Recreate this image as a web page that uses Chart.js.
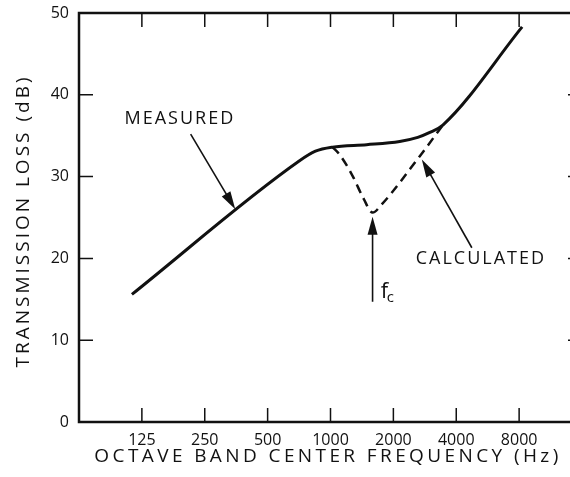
<!DOCTYPE html>
<html lang="en">
<head>
  <meta charset="UTF-8" />
  <title>Transmission Loss</title>
  <script src="https://cdn.jsdelivr.net/npm/chart.js"></script>
  <style>
    html, body { margin: 0; padding: 0; background: #fff; overflow: hidden; }
    .wrap { width: 600px; height: 477px; position: relative; }
  </style>
</head>
<body>
  <div class="wrap"><canvas id="graf"></canvas></div>

  <script>
    // octave bands (Hz) and their tick labels
    const bandFreqs = [125, 250, 500, 1000, 2000, 4000, 8000];
    const bandLabels = ['125', '250', '500', '1000', '2000', '4000', '8000'];
    const lossTicks = [0, 10, 20, 30, 40, 50];

    // measured curve
    const measuredFreq = [112, 708, 847, 1022, 1489, 2145, 2617, 2990, 3451, 8270];
    const measuredLoss = [15.6, 31.9, 33.1, 33.6, 33.9, 34.3, 34.8, 35.4, 36.3, 48.3];

    // calculated curve (coincidence dip at fc)
    const calculatedFreq = [1022, 1105, 1275, 1440, 1591, 1758, 2676, 3451];
    const calculatedLoss = [33.6, 32.7, 30.1, 27.3, 25.6, 26.6, 32.5, 36.3];

    const INK = '#111';
    const FONT = '"Open Sans", sans-serif';

    // text + arrows, in data units [Hz, dB]
    const notes = [
      { text: 'MEASURED', at: [190, 37.1], from: [214, 35.2], to: [350, 26.0] },
      { text: 'CALCULATED', at: [5250, 19.9], from: [4750, 21.3], to: [2737, 32.1] },
      { text: '', at: [1817, 15.9], from: [1590, 14.7], to: [1590, 25.1] }
    ];

    function arrow(ctx, x1, y1, x2, y2) {
      const a = Math.atan2(y2 - y1, x2 - x1);
      const len = 18, half = 5;
      ctx.beginPath();
      ctx.moveTo(x1, y1);
      ctx.lineTo(x2 - Math.cos(a) * len * 0.8, y2 - Math.sin(a) * len * 0.8);
      ctx.lineWidth = 1.6;
      ctx.stroke();
      ctx.beginPath();
      ctx.moveTo(x2, y2);
      ctx.lineTo(x2 - Math.cos(a) * len - Math.sin(a) * half, y2 - Math.sin(a) * len + Math.cos(a) * half);
      ctx.lineTo(x2 - Math.cos(a) * len + Math.sin(a) * half, y2 - Math.sin(a) * len - Math.cos(a) * half);
      ctx.closePath();
      ctx.fill();
    }

    const framePlugin = {
      id: 'frame',
      afterDraw(chart) {
        const ctx = chart.ctx;
        const { left, right, top, bottom } = chart.chartArea;
        const xs = chart.scales.x, ys = chart.scales.y;
        ctx.save();
        ctx.strokeStyle = INK;
        ctx.fillStyle = INK;

        // frame
        ctx.lineWidth = 2.5;
        ctx.strokeRect(left, top, right - left, bottom - top);

        // inward ticks
        ctx.lineWidth = 1.5;
        ctx.beginPath();
        bandFreqs.forEach(f => {
          const x = xs.getPixelForValue(f);
          ctx.moveTo(x, bottom); ctx.lineTo(x, bottom - 14);
          ctx.moveTo(x, top); ctx.lineTo(x, top + 14);
        });
        lossTicks.slice(1, -1).forEach(v => {
          const y = ys.getPixelForValue(v);
          ctx.moveTo(left, y); ctx.lineTo(left + 14, y);
          ctx.moveTo(right, y); ctx.lineTo(right - 14, y);
        });
        ctx.stroke();

        // axis titles
        ctx.font = '19px ' + FONT;
        ctx.textAlign = 'center';
        ctx.textBaseline = 'middle';
        ctx.letterSpacing = '3.4px';
        ctx.fillText('OCTAVE BAND CENTER FREQUENCY (Hz)', 328, 457);
        ctx.letterSpacing = '3px';
        ctx.save();
        ctx.translate(24, 221);
        ctx.rotate(-Math.PI / 2);
        ctx.fillText('TRANSMISSION LOSS (dB)', 0, 0);
        ctx.restore();

        // notes
        ctx.font = '18px ' + FONT;
        ctx.letterSpacing = '2px';
        notes.forEach(n => {
          const px = p => [xs.getPixelForValue(p[0]), ys.getPixelForValue(p[1])];
          const [tx, ty] = px(n.at);
          if (n.text) ctx.fillText(n.text, tx, ty);
          const [x1, y1] = px(n.from);
          const [x2, y2] = px(n.to);
          arrow(ctx, x1, y1, x2, y2);
        });

        // f with subscript c
        const [fx, fy] = [xs.getPixelForValue(notes[2].at[0]), ys.getPixelForValue(notes[2].at[1])];
        ctx.letterSpacing = '0px';
        ctx.textAlign = 'left';
        ctx.font = '22px ' + FONT;
        ctx.fillText('f', fx - 4, fy);
        ctx.font = '15px ' + FONT;
        ctx.fillText('c', fx + 2, fy + 6);
        ctx.restore();
      }
    };

    const ctx = document.getElementById('graf').getContext('2d');
    new Chart(ctx, {
      type: 'line',
      data: {
        datasets: [
          {
            label: 'Measured',
            data: measuredFreq.map((f, i) => ({ x: f, y: measuredLoss[i] })),
            borderColor: INK,
            borderWidth: 3,
            pointRadius: 0,
            cubicInterpolationMode: 'monotone',
            fill: false
          },
          {
            label: 'Calculated',
            data: calculatedFreq.map((f, i) => ({ x: f, y: calculatedLoss[i] })),
            borderColor: INK,
            borderWidth: 2.5,
            borderDash: [9, 6],
            pointRadius: 0,
            cubicInterpolationMode: 'monotone',
            fill: false
          }
        ]
      },
      options: {
        responsive: true,
        maintainAspectRatio: false,
        animation: false,
        layout: { padding: { top: 13, right: 18, left: 0, bottom: 0 } },
        plugins: { legend: { display: false }, tooltip: { enabled: false } },
        scales: {
          x: {
            type: 'logarithmic',
            min: 62.5,
            max: 16000,
            grid: { display: false, drawTicks: false },
            border: { display: false },
            afterBuildTicks: s => { s.ticks = bandFreqs.map(v => ({ value: v })); },
            afterFit: s => { s.height = 55; s.paddingLeft = 0; s.paddingRight = 0; },
            ticks: {
              autoSkip: false,
              maxRotation: 0,
              padding: 9,
              color: INK,
              font: { family: FONT, size: 16 },
              callback: (v, i) => bandLabels[i]
            }
          },
          y: {
            min: 0,
            max: 50,
            grid: { display: false, drawTicks: false },
            border: { display: false },
            afterBuildTicks: s => { s.ticks = lossTicks.map(v => ({ value: v })); },
            afterFit: s => { s.width = 79; s.paddingTop = 0; s.paddingBottom = 0; },
            ticks: {
              padding: 10,
              color: INK,
              font: { family: FONT, size: 16 }
            }
          }
        }
      },
      plugins: [framePlugin]
    });
  </script>
</body>
</html>
